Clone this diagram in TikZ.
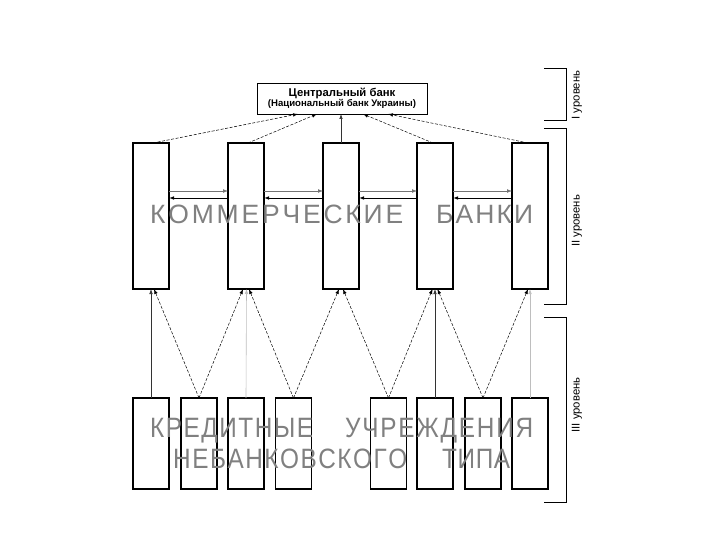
\documentclass[tikz,border=0pt]{standalone}
\usepackage{fontspec}
\setmainfont{Liberation Sans}
\usepackage{graphicx}
\usetikzlibrary{arrows.meta,calc}
\definecolor{bigtext}{RGB}{128,128,128}
\definecolor{faint}{RGB}{190,190,190}
\makeatletter
\newcommand\spreadtext[3]{\def\sp@sc{#2}\makebox[#1][s]{\sp@first#3\relax}}
\def\sp@first#1{\scalebox{\sp@sc}[1]{#1}\sp@loop}
\def\sp@loop#1{\ifx\relax#1\else\hskip 0pt plus 1fil minus 1fil\scalebox{\sp@sc}[1]{#1}\expandafter\sp@loop\fi}
\makeatother
\begin{document}
\begin{tikzpicture}[x=1pt,y=-1pt,
  ubox/.style={draw, line width=1.2pt, minimum width=36pt, minimum height=146pt, inner sep=0pt, outer sep=0pt},
  lbox/.style={draw, line width=1.1pt, minimum width=36pt, minimum height=91pt, inner sep=0pt, outer sep=0pt},
  cbbox/.style={draw, line width=0.9pt, minimum width=170pt, minimum height=31pt, inner sep=0pt, outer sep=0pt, align=center},
  tip/.style={-{Latex[length=5pt,width=3.6pt]}},
  dashlink/.style={tip, line width=0.5pt, dash pattern=on 3pt off 1.6pt},
  solidlink/.style={tip, line width=0.7pt, draw=black!80},
  faintlink/.style={tip, line width=0.6pt, draw=faint},
  rightarr/.style={tip, line width=0.45pt, draw=black!55},
  leftarr/.style={tip, line width=0.9pt},
  bigword/.style={inner sep=0pt, anchor=base west, text=bigtext},
  bracket/.style={line width=1pt},
  lvl/.style={rotate=90, font=\fontsize{11.3}{11}\selectfont, inner sep=0pt}
]
\useasboundingbox (0,0) rectangle (720,540);

% central bank
\node[cbbox] (CB) at (342,98.5) {\fontsize{11.3}{11}\selectfont\bfseries Центральный банк\\[-1.5pt]\fontsize{9.6}{10}\selectfont\bfseries (Национальный банк Украины)};

% commercial banks
\node[ubox] (U1) at (151,216) {};
\node[ubox] (U2) at (246,216) {};
\node[ubox] (U3) at (341,216) {};
\node[ubox] (U4) at (435,216) {};
\node[ubox] (U5) at (530,216) {};

% non-bank institutions
\node[lbox] (L1) at (151,443.5) {};
\node[lbox] (L2) at (199,443.5) {};
\node[lbox] (L3) at (246,443.5) {};
\node[lbox] (L4) at (293.5,443.5) {};
\node[lbox] (L5) at (388.5,443.5) {};
\node[lbox] (L6) at (435,443.5) {};
\node[lbox] (L7) at (483,443.5) {};
\node[lbox] (L8) at (530,443.5) {};

% links to the central bank
\draw[dashlink] ($(U1.north)+(2,0)$) -- ($(CB.south west)+(41,0)$);
\draw[dashlink] ($(U2.north)+(2,0)$) -- ($(CB.south west)+(60,0)$);
\draw[solidlink] (U3.north) -- (U3.north |- CB.south);
\draw[dashlink] ($(U4.north)+(-2,0)$) -- ($(CB.south west)+(106,0)$);
\draw[dashlink] ($(U5.north)+(-2,0)$) -- ($(CB.south west)+(131,0)$);

% links between commercial banks
\foreach \a/\b in {U1/U2,U2/U3,U3/U4,U4/U5}{
  \draw[rightarr] ($(\a.east)+(0,-25)$) -- ($(\b.west)+(0,-25)$);
  \draw[leftarr] ($(\b.west)+(0,-18)$) -- ($(\a.east)+(0,-18)$);
}

% links from non-bank institutions
\draw[solidlink] (L1.north) -- (U1.south);
\draw[dashlink] (L2.north) -- ($(U1.south)+(3,0)$);
\draw[dashlink] (L2.north) -- ($(U2.south)+(-3,0)$);
\draw[faintlink] (L3.north) -- ($(U2.south)+(0.5,0)$);
\draw[dashlink] (L4.north) -- ($(U2.south)+(3,0)$);
\draw[dashlink] (L4.north) -- ($(U3.south)+(-2,0)$);
\draw[dashlink] (L5.north) -- ($(U3.south)+(2,0)$);
\draw[dashlink] (L5.north) -- ($(U4.south)+(-2.5,0)$);
\draw[solidlink] (L6.north) -- (U4.south);
\draw[dashlink] (L7.north) -- ($(U4.south)+(2.5,0)$);
\draw[dashlink] (L7.north) -- ($(U5.south)+(-2,0)$);
\draw[faintlink] (L8.north) -- (U5.south);

% big words
\node[bigword] (w1) at (150,224) {\fontsize{26.5}{26}\selectfont\spreadtext{253pt}{1}{КОММЕРЧЕСКИЕ}};
\node[bigword] (w2) at (436,224) {\fontsize{26.5}{26}\selectfont\spreadtext{97pt}{1}{БАНКИ}};
\node[bigword] (w3) at (150,437) {\fontsize{28}{28}\selectfont\spreadtext{163pt}{0.87}{КРЕДИТНЫЕ}};
\node[bigword] (w4) at (345,437) {\fontsize{28}{28}\selectfont\spreadtext{188pt}{0.87}{УЧРЕЖДЕНИЯ}};
\node[bigword] (w5) at (173,468) {\fontsize{28}{28}\selectfont\spreadtext{234pt}{0.87}{НЕБАНКОВСКОГО}};
\node[bigword] (w6) at (442,468) {\fontsize{28}{28}\selectfont\spreadtext{68pt}{0.87}{ТИПА}};

% level brackets
\draw[bracket] (544,69) -- (566,69) -- (566,121) -- (544,121);
\draw[bracket] (544,129) -- (566,129) -- (566,304) -- (544,304);
\draw[bracket] (544,317) -- (566,317) -- (566,502) -- (544,502);
\node[lvl] (lv1) at (577,95) {I уровень};
\node[lvl] (lv2) at (577,221) {II уровень};
\node[lvl] (lv3) at (577,405) {III уровень};
\end{tikzpicture}
\end{document}
